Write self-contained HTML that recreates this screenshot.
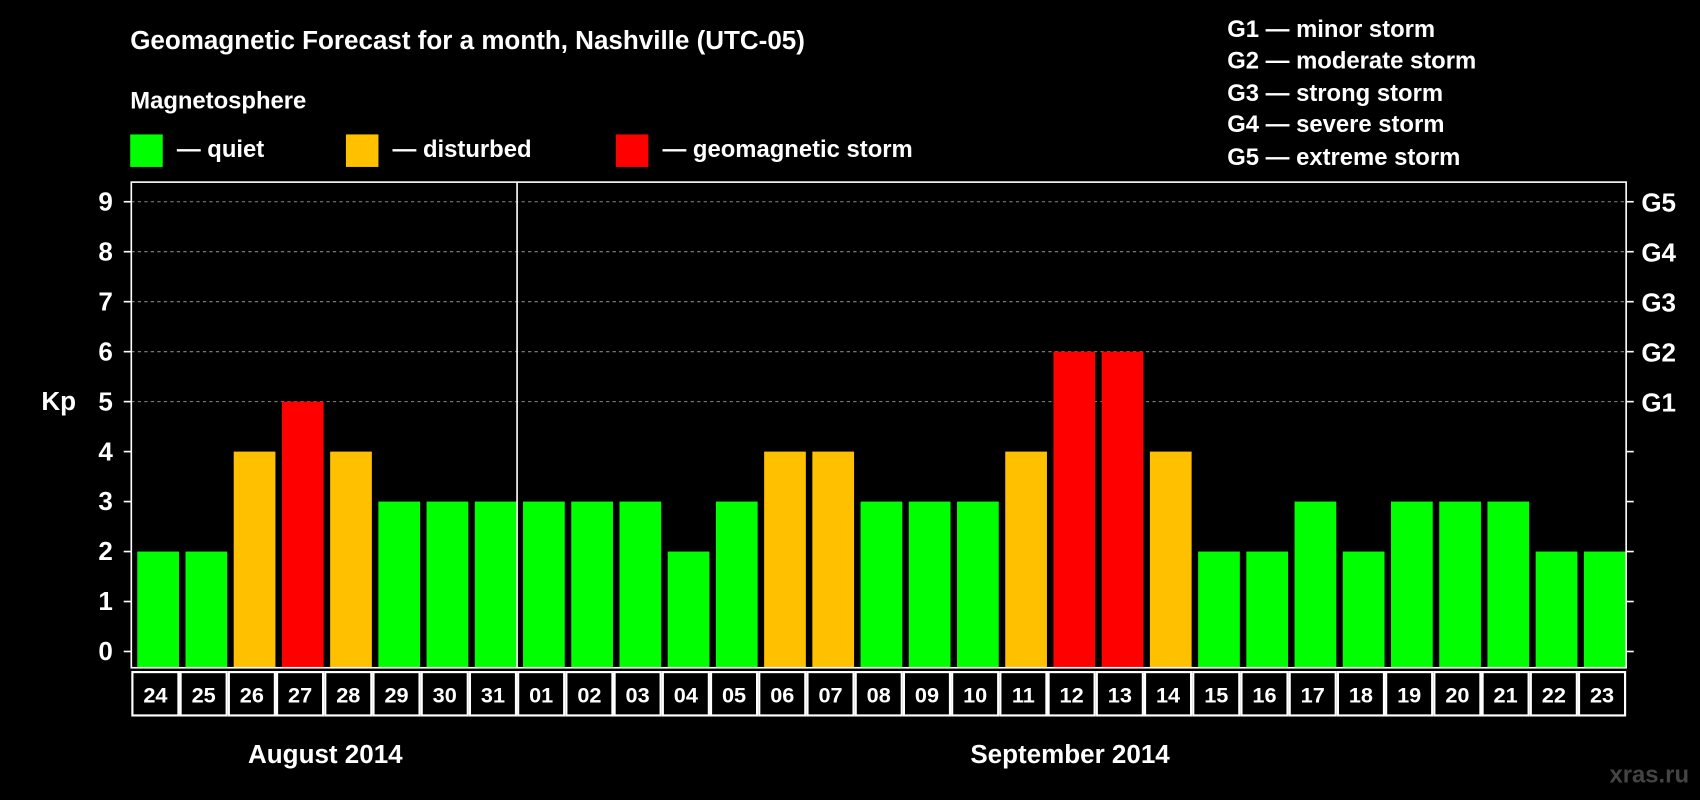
<!DOCTYPE html>
<html><head><meta charset="utf-8"><style>
html,body{margin:0;padding:0;background:#000;}
svg{display:block;font-family:"Liberation Sans",Arial,sans-serif;font-weight:bold;}
</style></head><body>
<svg id="chart" width="1700" height="800" viewBox="0 0 1568 738">
<rect x="0" y="0" width="1568" height="738" fill="#000"/>
<text x="120" y="45" fill="#fff" font-size="24">Geomagnetic Forecast for a month, Nashville (UTC-05)</text>
<text x="120" y="100" fill="#fff" font-size="22">Magnetosphere</text>
<g>
<rect x="120" y="124" width="30" height="30" fill="#00ff00"/>
<text x="163" y="145" fill="#fff" font-size="22">— quiet</text>
<rect x="319" y="124" width="30" height="30" fill="#ffc000"/>
<text x="362" y="145" fill="#fff" font-size="22">— disturbed</text>
<rect x="568" y="124" width="30" height="30" fill="#ff0000"/>
<text x="611" y="145" fill="#fff" font-size="22">— geomagnetic storm</text>
</g>
<g fill="#fff" font-size="22">
<text x="1132" y="34">G1 — minor storm</text>
<text x="1132" y="63">G2 — moderate storm</text>
<text x="1132" y="93">G3 — strong storm</text>
<text x="1132" y="122">G4 — severe storm</text>
<text x="1132" y="152">G5 — extreme storm</text>
</g>
<text x="38" y="378" fill="#fff" font-size="24">Kp</text>
<text x="300" y="704" fill="#fff" font-size="24" text-anchor="middle">August 2014</text>
<text x="987" y="704" fill="#fff" font-size="24" text-anchor="middle">September 2014</text>
<text x="1558" y="722" fill="#444" font-size="22" text-anchor="end">xras.ru</text>
<g id="plot"></g>
</svg>
<script>
const days=["24","25","26","27","28","29","30","31","01","02","03","04","05","06","07","08","09","10","11","12","13","14","15","16","17","18","19","20","21","22","23"];
const kp=[2,2,4,5,4,3,3,3,3,3,3,2,3,4,4,3,3,3,4,6,6,4,2,2,3,2,3,3,3,2,2];
const yTicks=[0,1,2,3,4,5,6,7,8,9];
const gLabels=["G1","G2","G3","G4","G5"];
const gLevels=[5,6,7,8,9];
const NS="http://www.w3.org/2000/svg";
const L=121,R=1500,T=168,B=616;
const slot=(R-L)/days.length;
const y=v=>601-v*46.1;
const x=i=>L+i*slot;
const g=document.getElementById('plot');
function mk(t,a){const e=document.createElementNS(NS,t);for(const k in a)e.setAttribute(k,a[k]);g.appendChild(e);return e;}
// grid
gLevels.forEach(v=>{const e=mk('line',{x1:L,x2:R,y1:y(v),y2:y(v),stroke:'#888','stroke-dasharray':'3,3','stroke-width':1});

});
// bars
kp.forEach((v,i)=>{const c=v>=5?'#ff0000':v>=4?'#ffc000':'#00ff00';
const e=mk('rect',{x:x(i)+5.5,y:y(v),width:slot-6,height:B-y(v),fill:c});


const b=mk('rect',{x:x(i)+1,y:620,width:slot-2,height:40,fill:'none',stroke:'#fff','stroke-width':2});


const t=mk('text',{x:x(i)+slot/2,y:648,fill:'#fff','font-size':20,'text-anchor':'middle'});t.textContent=days[i];

});
// frame
const f=mk('rect',{x:L,y:T,width:R-L,height:B-T,fill:'none',stroke:'#fff','stroke-width':1.5});


const sep=mk('line',{x1:x(8),x2:x(8),y1:T,y2:B,stroke:'#fff','stroke-width':1.5});


yTicks.forEach(v=>{mk('line',{x1:L-7,x2:L,y1:y(v),y2:y(v),stroke:'#fff','stroke-width':1.5});
mk('line',{x1:R,x2:R+7,y1:y(v),y2:y(v),stroke:'#fff','stroke-width':1.5});
const t=mk('text',{x:104,y:y(v)+8,fill:'#fff','font-size':24,'text-anchor':'end'});t.textContent=v;

});
gLevels.forEach((v,i)=>{const t=mk('text',{x:1514,y:y(v)+9,fill:'#fff','font-size':24});t.textContent=gLabels[i];

});
</script>
</body></html>
